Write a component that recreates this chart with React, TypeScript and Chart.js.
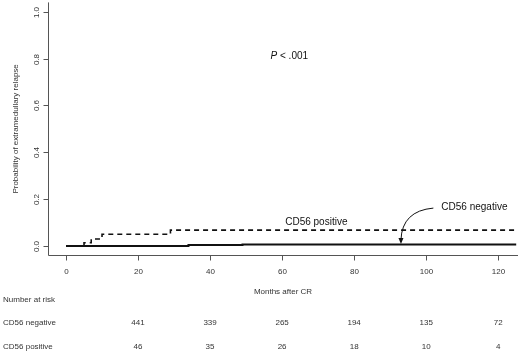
import React, { useEffect, useRef } from "react";
import { Chart, registerables } from "chart.js";

Chart.register(...registerables);

const xTickValues = [0, 20, 40, 60, 80, 100, 120];
const yTickValues = [0, 0.2, 0.4, 0.6, 0.8, 1.0];
const yTickLabels = ["0.0", "0.2", "0.4", "0.6", "0.8", "1.0"];

const negTimes = [0, 34, 49, 125];
const negValues = [0, 0.004, 0.007, 0.007];
const posTimes = [0, 5, 7, 10, 29, 125];
const posValues = [0, 0.014, 0.03, 0.05, 0.068, 0.068];

const riskMonths = [20, 40, 60, 80, 100, 120];
const riskNegative = [441, 339, 265, 194, 135, 72];
const riskPositive = [46, 35, 26, 18, 10, 4];

const FONT = '"Liberation Sans", Arial, sans-serif';

const drawPlugin = {
  id: "rstyle",
  afterDraw(chart: any) {
    const ctx = chart.ctx as CanvasRenderingContext2D;
    const area = chart.chartArea;
    const xs = chart.scales.x;
    const ys = chart.scales.y;
    ctx.save();
    ctx.strokeStyle = "#555";
    ctx.lineWidth = 1;
    // axis lines (L shape)
    const left = Math.round(area.left) + 0.5;
    const bottom = Math.round(area.bottom) + 0.5;
    ctx.beginPath();
    ctx.moveTo(left, area.top);
    ctx.lineTo(left, bottom);
    ctx.lineTo(area.right, bottom);
    ctx.stroke();

    ctx.fillStyle = "#333";
    // y ticks
    ctx.font = `8px ${FONT}`;
    yTickValues.forEach((v, i) => {
      const py = Math.round(ys.getPixelForValue(v)) + 0.5;
      ctx.beginPath();
      ctx.moveTo(left - 5, py);
      ctx.lineTo(left, py);
      ctx.stroke();
      ctx.save();
      ctx.translate(37, py);
      ctx.rotate(-Math.PI / 2);
      ctx.textAlign = "center";
      ctx.textBaseline = "middle";
      ctx.fillText(yTickLabels[i], 0, 0);
      ctx.restore();
    });
    // x ticks
    xTickValues.forEach((v) => {
      const px = Math.round(xs.getPixelForValue(v)) + 0.5;
      ctx.beginPath();
      ctx.moveTo(px, bottom);
      ctx.lineTo(px, bottom + 5);
      ctx.stroke();
      ctx.textAlign = "center";
      ctx.textBaseline = "middle";
      ctx.fillText(String(v), px, 272);
    });
    // axis titles
    ctx.textAlign = "center";
    ctx.textBaseline = "middle";
    ctx.fillText("Months after CR", (area.left + area.right) / 2, 292);
    ctx.save();
    ctx.translate(16, (area.top + area.bottom) / 2);
    ctx.rotate(-Math.PI / 2);
    ctx.fillText("Probability of extramedullary relapse", 0, 0);
    ctx.restore();

    // number at risk table
    ctx.textAlign = "left";
    ctx.fillText("Number at risk", 3, 300);
    ctx.fillText("CD56 negative", 3, 322.5);
    ctx.fillText("CD56 positive", 3, 346.5);
    ctx.textAlign = "center";
    riskMonths.forEach((m, i) => {
      const px = xs.getPixelForValue(m);
      ctx.fillText(String(riskNegative[i]), px, 322.5);
      ctx.fillText(String(riskPositive[i]), px, 346.5);
    });

    // P value
    ctx.font = `10px ${FONT}`;
    ctx.fillStyle = "#111";
    const pcx = xs.getPixelForValue(62);
    const pcy = ys.getPixelForValue(0.8) - 2;
    ctx.font = `italic 10px ${FONT}`;
    const pW = ctx.measureText("P").width;
    ctx.font = `10px ${FONT}`;
    const restW = ctx.measureText(" < .001").width;
    const startX = pcx - (pW + restW) / 2;
    ctx.textAlign = "left";
    ctx.font = `italic 10px ${FONT}`;
    ctx.fillText("P", startX, pcy);
    ctx.font = `10px ${FONT}`;
    ctx.fillText(" < .001", startX + pW, pcy);

    // annotations
    ctx.textAlign = "center";
    ctx.fillText("CD56 positive", xs.getPixelForValue(69.5), ys.getPixelForValue(0.102));
    ctx.textAlign = "left";
    ctx.fillText("CD56 negative", xs.getPixelForValue(104.2), ys.getPixelForValue(0.167));

    // curved arrow
    const sx = xs.getPixelForValue(102);
    const sy = ys.getPixelForValue(0.162);
    const cx = xs.getPixelForValue(93.3);
    const cy = ys.getPixelForValue(0.15);
    const tx = xs.getPixelForValue(93);
    const ty = ys.getPixelForValue(0.009);
    ctx.strokeStyle = "#111";
    ctx.lineWidth = 1;
    ctx.beginPath();
    ctx.moveTo(sx, sy);
    ctx.quadraticCurveTo(cx, cy, tx, ty - 4);
    ctx.stroke();
    ctx.beginPath();
    ctx.moveTo(tx, ty);
    ctx.lineTo(tx - 2.5, ty - 6);
    ctx.lineTo(tx + 2.5, ty - 6);
    ctx.closePath();
    ctx.fill();
    ctx.restore();
  },
};

export default function App() {
  const ref = useRef<HTMLCanvasElement | null>(null);
  useEffect(() => {
    document.body.style.margin = "0";
    document.body.style.background = "#fff";
    const negData = negTimes.map((t, i) => ({ x: t, y: negValues[i] }));
    const posData = posTimes.map((t, i) => ({ x: t, y: posValues[i] }));
    const chart = new Chart(ref.current as HTMLCanvasElement, {
      type: "line",
      data: {
        datasets: [
          {
            label: "CD56 negative",
            data: negData,
            borderColor: "#111",
            borderWidth: 2,
            stepped: true,
            pointRadius: 0,
            fill: false,
          },
          {
            label: "CD56 positive",
            data: posData,
            borderColor: "#111",
            borderWidth: 1.6,
            borderDash: [5, 4],
            stepped: true,
            pointRadius: 0,
            fill: false,
          },
        ],
      },
      options: {
        responsive: false,
        animation: false,
        layout: { padding: { left: 48, right: 2, top: 2.4, bottom: 97.6 } },
        plugins: { legend: { display: false }, tooltip: { enabled: false } },
        scales: {
          x: { type: "linear", min: -5, max: 125.5, display: false },
          y: { type: "linear", min: -0.04, max: 1.04, display: false },
        },
      },
      plugins: [drawPlugin],
    });
    return () => chart.destroy();
  }, []);
  return (
    <div style={{ width: 520, height: 353, background: "#fff" }}>
      <canvas ref={ref} width={520} height={353} style={{ display: "block" }} />
    </div>
  );
}
